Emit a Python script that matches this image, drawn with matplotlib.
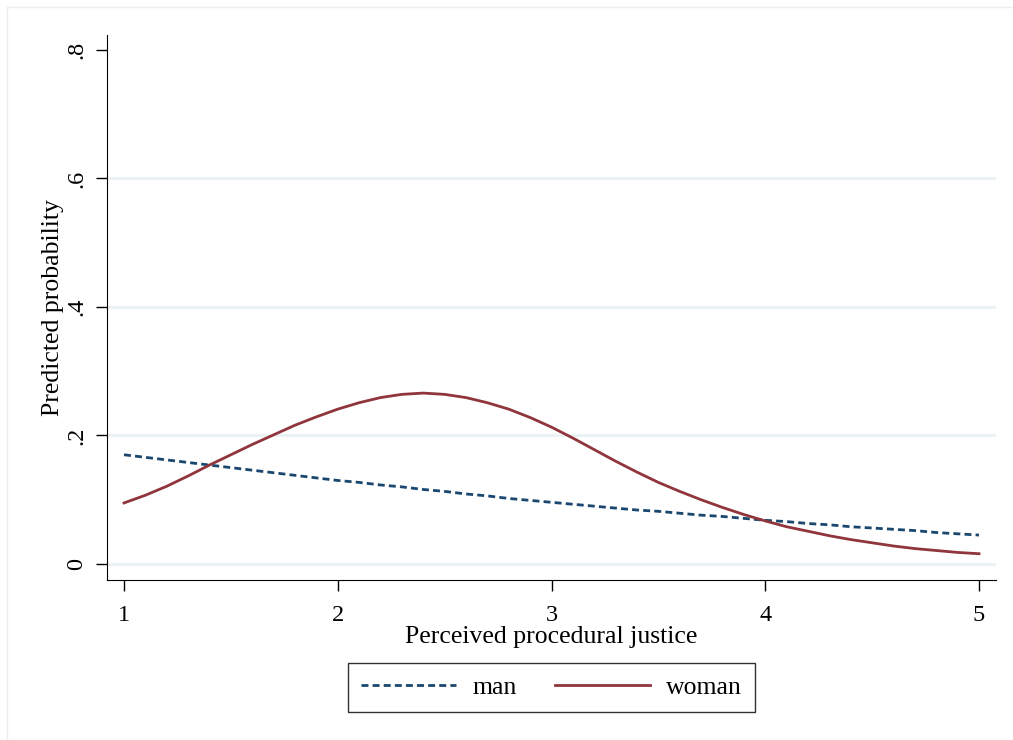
import matplotlib.pyplot as plt
from matplotlib.lines import Line2D

# predicted probabilities
x_vals = [1.0, 1.1, 1.2, 1.3, 1.4, 1.5, 1.6, 1.7, 1.8, 1.9,
          2.0, 2.1, 2.2, 2.3, 2.4, 2.5, 2.6, 2.7, 2.8, 2.9,
          3.0, 3.1, 3.2, 3.3, 3.4, 3.5, 3.6, 3.7, 3.8, 3.9,
          4.0, 4.1, 4.2, 4.3, 4.4, 4.5, 4.6, 4.7, 4.8, 4.9, 5.0]
man = [0.170, 0.166, 0.162, 0.158, 0.154, 0.150, 0.146, 0.142, 0.138, 0.134,
       0.130, 0.127, 0.123, 0.120, 0.116, 0.113, 0.109, 0.106, 0.102, 0.099,
       0.096, 0.093, 0.090, 0.087, 0.084, 0.082, 0.079, 0.076, 0.074, 0.071,
       0.068, 0.066, 0.063, 0.061, 0.058, 0.056, 0.054, 0.052, 0.049, 0.047, 0.045]
woman = [0.095, 0.107, 0.121, 0.137, 0.154, 0.170, 0.186, 0.201, 0.216, 0.229,
         0.241, 0.251, 0.259, 0.264, 0.266, 0.264, 0.259, 0.251, 0.241, 0.228,
         0.213, 0.196, 0.178, 0.160, 0.143, 0.127, 0.113, 0.100, 0.088, 0.077,
         0.067, 0.058, 0.051, 0.044, 0.038, 0.033, 0.028, 0.024, 0.021, 0.018, 0.016]

x_ticks = [1, 2, 3, 4, 5]
y_ticks = [0, 0.2, 0.4, 0.6, 0.8]
y_labels = ['0', '.2', '.4', '.6', '.8']

plt.rcParams['font.family'] = ['Liberation Serif', 'DejaVu Serif']

navy = '#1a476f'
maroon = '#90353b'
grid_col = '#eaf2f3'

fig = plt.figure(figsize=(10.13, 7.40), dpi=100)
ax = fig.add_axes([107 / 1013, 1 - 580 / 740, (996 - 107) / 1013, (580 - 35) / 740])

for y in y_ticks[:-1]:
    ax.axhline(y, color=grid_col, linewidth=2, zorder=0)

ax.plot(x_vals, man, color=navy, linestyle=(0, (2.5, 1.5)), linewidth=2, label='man')
ax.plot(x_vals, woman, color=maroon, linestyle='-', linewidth=2, label='woman')

ax.set_xlim(0.9205, 5.0795)
ax.set_ylim(-0.0249, 0.8233)
ax.set_xticks(x_ticks)
ax.set_yticks(y_ticks)
ax.set_yticklabels(y_labels, rotation=90, va='center')
ax.tick_params(axis='both', direction='out', length=8, width=1, labelsize=17.5)
ax.tick_params(axis='x', pad=10)
ax.tick_params(axis='y', pad=6)

ax.spines['top'].set_visible(False)
ax.spines['right'].set_visible(False)

ax.set_xlabel('Perceived procedural justice', fontsize=18.5, labelpad=0)
ax.set_ylabel('Predicted probability', fontsize=18.5, labelpad=2)

leg = ax.legend(loc='upper center', bbox_to_anchor=(0.5, -0.152), ncol=2,
                fontsize=18.5, frameon=True, fancybox=False, edgecolor='black',
                handlelength=3.7, handletextpad=0.62, columnspacing=1.5,
                borderpad=0.5, borderaxespad=0)
leg.get_frame().set_linewidth(1)

# faint outer border
fig.add_artist(Line2D([7 / 1013, 1], [1 - 7 / 740, 1 - 7 / 740], color='#eeeeee', linewidth=1))
fig.add_artist(Line2D([7 / 1013, 7 / 1013], [0, 1 - 7 / 740], color='#eeeeee', linewidth=1))

fig.savefig('out.png', dpi=100)
